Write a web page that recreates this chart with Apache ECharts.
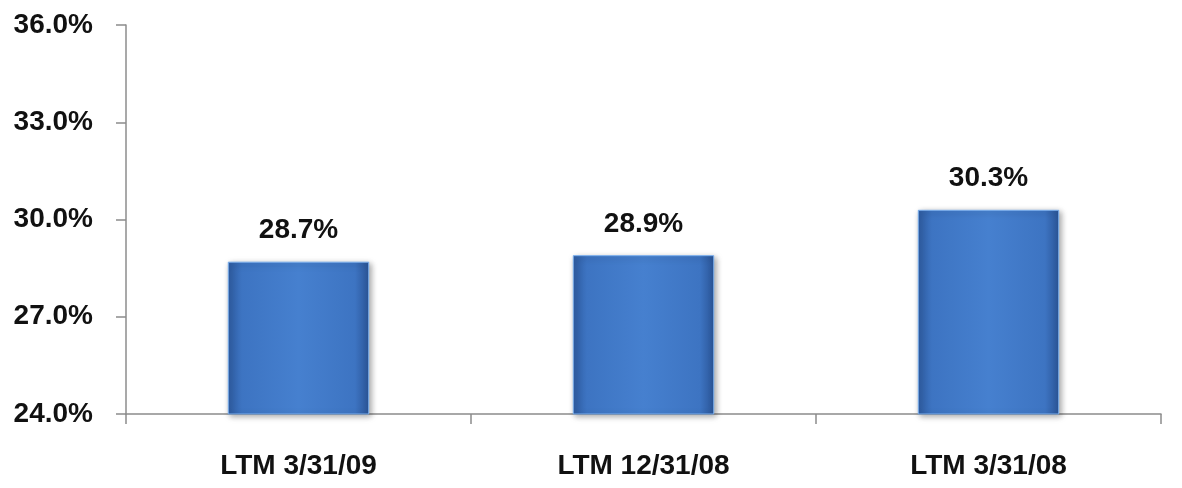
<!DOCTYPE html>
<html>
<head>
<meta charset="utf-8">
<script src="https://cdn.jsdelivr.net/npm/echarts@6/dist/echarts.min.js"></script>
<style>
  html, body { margin: 0; padding: 0; background: #fff; }
  #chart { width: 1182px; height: 488px; }
</style>
</head>
<body>
<div id="chart"></div>
<script>
// Margin by trailing-twelve-month period
const categories = ['LTM 3/31/09', 'LTM 12/31/08', 'LTM 3/31/08'];
const marginValues = [28.7, 28.9, 30.3];
const axisMin = 24;
const axisMax = 36;
const axisStep = 3;

const chart = echarts.init(document.getElementById('chart'));

const textFont = 'Liberation Sans, Arial, sans-serif';

// Horizontal shading gives the bars a rounded, bevelled look
const barFill = new echarts.graphic.LinearGradient(0, 0, 1, 0, [
  { offset: 0, color: '#2e5ca2' },
  { offset: 0.1, color: '#3d74c2' },
  { offset: 0.5, color: '#4680cf' },
  { offset: 0.9, color: '#3d74c2' },
  { offset: 1, color: '#2a5496' }
]);

chart.setOption({
  animation: false,
  grid: { left: 126, right: 21, top: 25, bottom: 74 },
  xAxis: {
    type: 'category',
    data: categories,
    axisLine: { lineStyle: { color: '#8c8c8c', width: 1.5 } },
    axisTick: { show: true, length: 10, interval: 0, lineStyle: { color: '#8c8c8c', width: 1.5 } },
    axisLabel: {
      color: '#111',
      fontFamily: textFont,
      fontWeight: 'bold',
      fontSize: 28,
      margin: 38
    }
  },
  yAxis: {
    type: 'value',
    min: axisMin,
    max: axisMax,
    interval: axisStep,
    splitLine: { show: false },
    axisLine: { show: true, lineStyle: { color: '#8c8c8c', width: 1.5 } },
    axisTick: { show: true, length: 10, lineStyle: { color: '#8c8c8c', width: 1.5 } },
    axisLabel: {
      color: '#111',
      fontFamily: textFont,
      fontWeight: 'bold',
      fontSize: 28,
      margin: 33,
      formatter: v => v.toFixed(1) + '%'
    }
  },
  series: [{
    type: 'bar',
    data: marginValues,
    barWidth: '41%',
    itemStyle: {
      color: barFill,
      borderColor: '#7cb0ef',
      borderWidth: 1,
      shadowColor: 'rgba(0,0,0,0.35)',
      shadowBlur: 6,
      shadowOffsetX: 2,
      shadowOffsetY: 2
    },
    label: {
      show: true,
      position: 'top',
      distance: 17,
      color: '#111',
      fontFamily: textFont,
      fontWeight: 'bold',
      fontSize: 28,
      formatter: p => p.value.toFixed(1) + '%'
    }
  }]
});
</script>
</body>
</html>
